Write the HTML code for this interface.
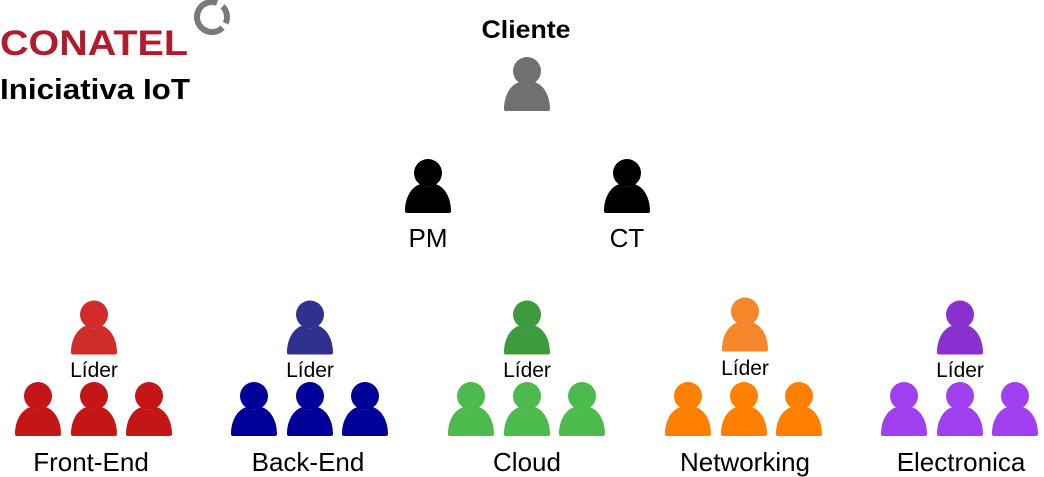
<!DOCTYPE html>
<html><head><meta charset="utf-8"><style>
html,body{margin:0;padding:0;background:#fff;}
body{width:1044px;height:477px;position:relative;overflow:hidden;font-family:"Liberation Sans",sans-serif;}
svg{position:absolute;left:0;top:0;}
</style></head><body>
<svg width="1044" height="477" viewBox="0 0 1044 477" xmlns="http://www.w3.org/2000/svg">
<defs>
<symbol id="p" viewBox="0 0 48 54">
<circle cx="24" cy="14" r="14"/>
<path d="M1,52 C1,38 8,27 17,25 Q24,31 31,25 C40,27 47,38 47,52 Q47,54 45,54 L3,54 Q1,54 1,52 Z"/>
</symbol>
</defs>
<text x="0" y="55" font-family="Liberation Sans" font-weight="bold" font-size="35" fill="#b01c2e" textLength="188" lengthAdjust="spacingAndGlyphs">CONATEL</text>
<path d="M222.6,27.6 A15,15 0 1,1 217.1,2.9" fill="none" stroke="#7a7a7a" stroke-width="6"/>
<path d="M222.6,6.4 A15,15 0 0,1 225.6,23.3" fill="none" stroke="#7a7a7a" stroke-width="6"/>
<text x="0" y="99" font-weight="bold" font-size="29" fill="#000" textLength="190" lengthAdjust="spacingAndGlyphs">Iniciativa IoT</text>

<text x="526" y="38" font-weight="bold" font-size="25" text-anchor="middle" textLength="89" lengthAdjust="spacingAndGlyphs">Cliente</text>
<use href="#p" x="503" y="57" width="48" height="54" fill="#707070"/>
<use href="#p" x="404" y="159" width="48" height="54" fill="#000"/>
<use href="#p" x="603" y="159" width="48" height="54" fill="#000"/>
<text x="428" y="247" font-size="26" text-anchor="middle">PM</text>
<text x="627" y="247" font-size="26" text-anchor="middle">CT</text>

<g font-size="21" text-anchor="middle">
<use href="#p" x="70" y="300" width="48" height="55" fill="#d12c2c"/>
<text x="94" y="377">Líder</text>
<use href="#p" x="14" y="381" width="48" height="56" fill="#c41616"/>
<use href="#p" x="70" y="381" width="48" height="56" fill="#c41616"/>
<use href="#p" x="125" y="381" width="48" height="56" fill="#c41616"/>

<use href="#p" x="286" y="300" width="48" height="55" fill="#303090"/>
<text x="310" y="377">Líder</text>
<use href="#p" x="230" y="381" width="48" height="56" fill="#000099"/>
<use href="#p" x="286" y="381" width="48" height="56" fill="#000099"/>
<use href="#p" x="341" y="381" width="48" height="56" fill="#000099"/>

<use href="#p" x="503" y="300" width="48" height="55" fill="#3d9b3d"/>
<text x="527" y="377">Líder</text>
<use href="#p" x="447" y="381" width="48" height="56" fill="#4cba4c"/>
<use href="#p" x="503" y="381" width="48" height="56" fill="#4cba4c"/>
<use href="#p" x="558" y="381" width="48" height="56" fill="#4cba4c"/>

<use href="#p" x="721" y="297" width="48" height="55" fill="#f5862a"/>
<text x="745" y="375">Líder</text>
<use href="#p" x="664" y="381" width="48" height="56" fill="#ff7f00"/>
<use href="#p" x="720" y="381" width="48" height="56" fill="#ff7f00"/>
<use href="#p" x="775" y="381" width="48" height="56" fill="#ff7f00"/>

<use href="#p" x="936" y="300" width="48" height="55" fill="#8a2fd0"/>
<text x="960" y="377">Líder</text>
<use href="#p" x="880" y="381" width="48" height="56" fill="#a040f0"/>
<use href="#p" x="936" y="381" width="48" height="56" fill="#a040f0"/>
<use href="#p" x="991" y="381" width="48" height="56" fill="#a040f0"/>
</g>
<g font-size="26" text-anchor="middle">
<text x="91" y="471">Front-End</text>
<text x="308" y="471">Back-End</text>
<text x="527" y="471">Cloud</text>
<text x="745" y="471">Networking</text>
<text x="961" y="471">Electronica</text>
</g>
</svg>
</body></html>
